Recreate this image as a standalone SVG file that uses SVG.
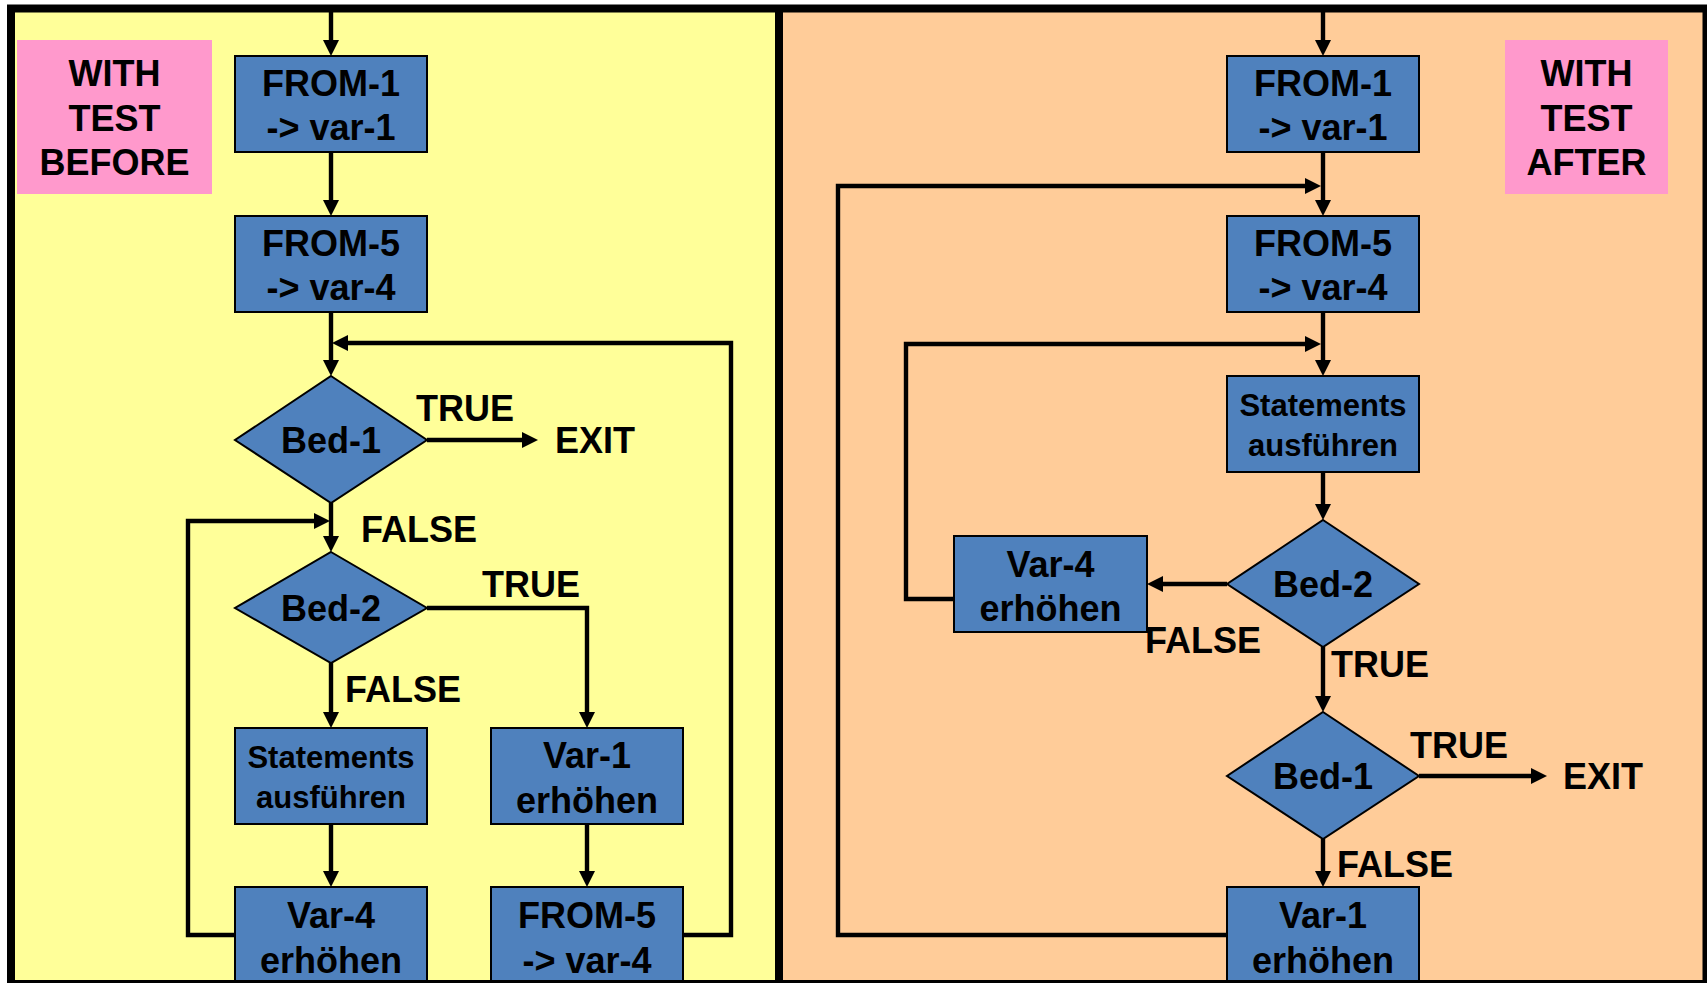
<svg xmlns="http://www.w3.org/2000/svg" width="1707" height="983" viewBox="0 0 1707 983">
  <defs>
    <marker id="arrow" markerUnits="userSpaceOnUse" markerWidth="16" markerHeight="16" refX="10" refY="8" orient="auto">
      <path d="M0,0 L16,8 L0,16 z" fill="#000"/>
    </marker>
    <style>
      .box { fill: #4F81BD; stroke: #000; stroke-width: 2; }
      .tag { fill: #FF99CC; }
      .t { font-family: "Liberation Sans", Arial, sans-serif; font-weight: bold; font-size: 36px; fill: #000; }
      .c { text-anchor: middle; }
      .s { font-size: 31px; }
      .wire { fill: none; stroke: #000; stroke-width: 4.4; }
      .arr { marker-end: url(#arrow); }
    </style>
  </defs>

  <!-- frame and the two panels -->
  <rect x="7" y="4.5" width="1700" height="978.5" fill="#000"/>
  <rect x="15" y="12.5" width="760" height="967.5" fill="#FFFF99"/>
  <rect x="783" y="12.5" width="919.5" height="967.5" fill="#FFCC99"/>

  <!-- captions -->
  <g id="caption-before">
    <rect class="tag" x="17" y="40" width="195" height="154"/>
    <text class="t c" x="114.5" y="86">WITH</text>
    <text class="t c" x="114.5" y="131">TEST</text>
    <text class="t c" x="114.5" y="175">BEFORE</text>
  </g>
  <g id="caption-after">
    <rect class="tag" x="1505" y="40" width="163" height="154"/>
    <text class="t c" x="1586.5" y="86">WITH</text>
    <text class="t c" x="1586.5" y="131">TEST</text>
    <text class="t c" x="1586.5" y="175">AFTER</text>
  </g>

  <!-- connectors -->
  <g id="connectors">
    <!-- left: test before -->
    <path class="wire arr" d="M331,12 V50"/>
    <path class="wire arr" d="M331,152 V210"/>
    <path class="wire arr" d="M331,312 V370"/>
    <path class="wire arr" d="M683,935 H731 V343 H338"/>
    <path class="wire arr" d="M427,440 H532"/>
    <path class="wire arr" d="M331,503 V546"/>
    <path class="wire arr" d="M235,935 H188 V521 H324"/>
    <path class="wire arr" d="M427,608 H587 V722"/>
    <path class="wire arr" d="M331,663 V722"/>
    <path class="wire arr" d="M331,824 V881"/>
    <path class="wire arr" d="M587,824 V881"/>

    <!-- right: test after -->
    <path class="wire arr" d="M1323,12 V50"/>
    <path class="wire arr" d="M1323,152 V210"/>
    <path class="wire arr" d="M1227,935 H838 V186 H1315"/>
    <path class="wire arr" d="M1323,312 V370"/>
    <path class="wire arr" d="M954,599 H906 V344 H1315"/>
    <path class="wire arr" d="M1323,472 V514"/>
    <path class="wire arr" d="M1227,584 H1153"/>
    <path class="wire arr" d="M1323,647 V706"/>
    <path class="wire arr" d="M1419,776 H1541"/>
    <path class="wire arr" d="M1323,839 V881"/>
  </g>

  <!-- branch labels -->
  <g id="labels">
    <text class="t" x="416" y="421">TRUE</text>
    <text class="t" x="555" y="453">EXIT</text>
    <text class="t" x="361" y="542">FALSE</text>
    <text class="t" x="482" y="597">TRUE</text>
    <text class="t" x="345" y="702">FALSE</text>
    <text class="t" x="1145" y="653">FALSE</text>
    <text class="t" x="1331" y="677">TRUE</text>
    <text class="t" x="1410" y="758">TRUE</text>
    <text class="t" x="1563" y="789">EXIT</text>
    <text class="t" x="1337" y="877">FALSE</text>
  </g>

  <!-- left flow -->
  <g id="l-from1">
    <rect class="box" x="235" y="56" width="192" height="96"/>
    <text class="t c" x="331" y="96">FROM-1</text>
    <text class="t c" x="331" y="140">-&gt; var-1</text>
  </g>
  <g id="l-from5">
    <rect class="box" x="235" y="216" width="192" height="96"/>
    <text class="t c" x="331" y="256">FROM-5</text>
    <text class="t c" x="331" y="300">-&gt; var-4</text>
  </g>
  <g id="l-bed1">
    <polygon class="box" points="331,376 427,440 331,503 235,440"/>
    <text class="t c" x="331" y="453">Bed-1</text>
  </g>
  <g id="l-bed2">
    <polygon class="box" points="331,552 427,608 331,663 235,608"/>
    <text class="t c" x="331" y="621">Bed-2</text>
  </g>
  <g id="l-statements">
    <rect class="box" x="235" y="728" width="192" height="96"/>
    <text class="t c s" x="331" y="768">Statements</text>
    <text class="t c s" x="331" y="808">ausführen</text>
  </g>
  <g id="l-var1">
    <rect class="box" x="491" y="728" width="192" height="96"/>
    <text class="t c" x="587" y="768">Var-1</text>
    <text class="t c" x="587" y="813">erhöhen</text>
  </g>
  <g id="l-var4">
    <rect class="box" x="235" y="887" width="192" height="110"/>
    <text class="t c" x="331" y="928">Var-4</text>
    <text class="t c" x="331" y="973">erhöhen</text>
  </g>
  <g id="l-from5b">
    <rect class="box" x="491" y="887" width="192" height="110"/>
    <text class="t c" x="587" y="928">FROM-5</text>
    <text class="t c" x="587" y="973">-&gt; var-4</text>
  </g>

  <!-- right flow -->
  <g id="r-from1">
    <rect class="box" x="1227" y="56" width="192" height="96"/>
    <text class="t c" x="1323" y="96">FROM-1</text>
    <text class="t c" x="1323" y="140">-&gt; var-1</text>
  </g>
  <g id="r-from5">
    <rect class="box" x="1227" y="216" width="192" height="96"/>
    <text class="t c" x="1323" y="256">FROM-5</text>
    <text class="t c" x="1323" y="300">-&gt; var-4</text>
  </g>
  <g id="r-statements">
    <rect class="box" x="1227" y="376" width="192" height="96"/>
    <text class="t c s" x="1323" y="416">Statements</text>
    <text class="t c s" x="1323" y="456">ausführen</text>
  </g>
  <g id="r-bed2">
    <polygon class="box" points="1323,520 1419,584 1323,647 1227,584"/>
    <text class="t c" x="1323" y="597">Bed-2</text>
  </g>
  <g id="r-var4">
    <rect class="box" x="954" y="536" width="193" height="96"/>
    <text class="t c" x="1050.5" y="577">Var-4</text>
    <text class="t c" x="1050.5" y="621">erhöhen</text>
  </g>
  <g id="r-bed1">
    <polygon class="box" points="1323,712 1419,776 1323,839 1227,776"/>
    <text class="t c" x="1323" y="789">Bed-1</text>
  </g>
  <g id="r-var1">
    <rect class="box" x="1227" y="887" width="192" height="110"/>
    <text class="t c" x="1323" y="928">Var-1</text>
    <text class="t c" x="1323" y="973">erhöhen</text>
  </g>

  <!-- bottom edge of the frame, over the cut-off boxes -->
  <rect x="7" y="980" width="1700" height="3" fill="#000"/>
</svg>
